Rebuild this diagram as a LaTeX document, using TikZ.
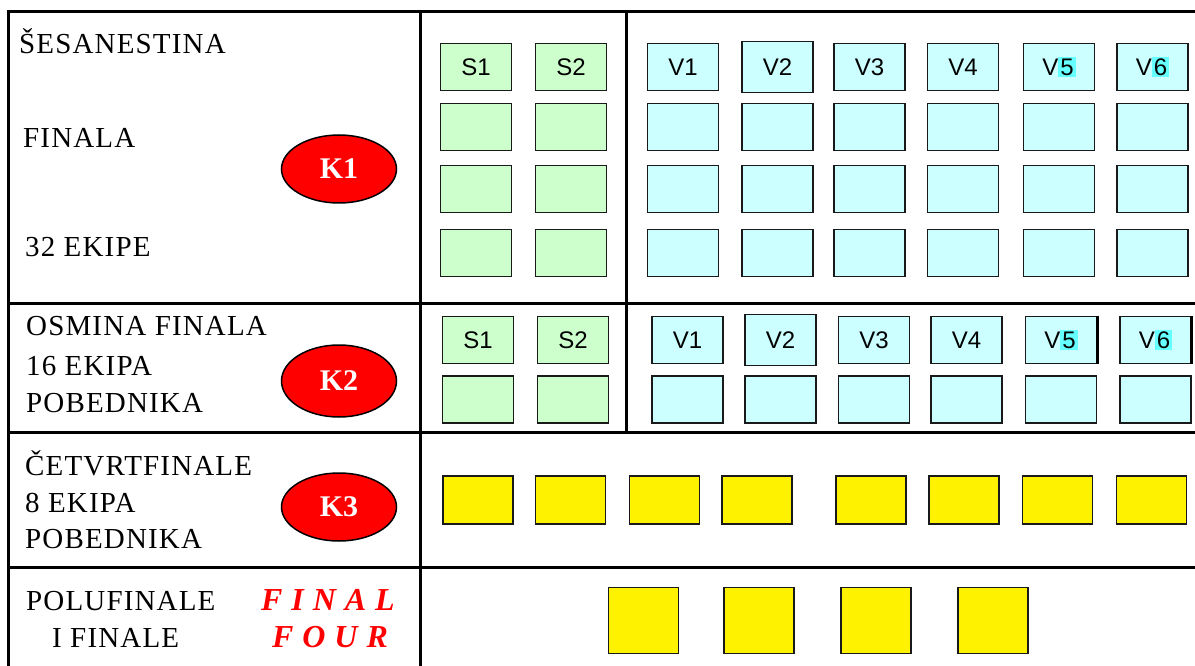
\documentclass[tikz,border=0pt]{standalone}
\usepackage{fontspec}
\setmainfont{Liberation Serif}
\newfontfamily\boxfont{Liberation Sans}
\usetikzlibrary{shapes.geometric}
\definecolor{sgreen}{HTML}{CCFFCC}
\definecolor{vblue}{HTML}{CCFFFF}
\definecolor{hilite}{HTML}{66FFFF}
\tikzset{
	divider/.style={line width=3pt},
	team/.style={draw=black!90,line width=1.8pt,minimum width=71pt,minimum height=47pt,inner sep=0pt,font=\boxfont\fontsize{24}{24}\selectfont},
	sbox/.style={team,fill=sgreen},
	vbox/.style={team,fill=vblue},
	ybox/.style={team,fill=yellow,minimum width=70pt,minimum height=48pt},
	fbox/.style={ybox,minimum height=66pt},
	kolo/.style={ellipse,draw=black,line width=1.5pt,fill=red,minimum width=115pt,minimum height=68pt,inner sep=0pt,text=white,font=\fontsize{30}{30}\selectfont\bfseries},
	stage/.style={anchor=base west,inner sep=0pt,font=\fontsize{29}{29}\selectfont\addfontfeatures{LetterSpace=4}},
	ffour/.style={anchor=base,inner sep=0pt,text=red,font=\fontsize{32}{32}\selectfont\bfseries\itshape\addfontfeatures{LetterSpace=28}}
}
\newcommand{\hl}[1]{{\setlength{\fboxsep}{2pt}\colorbox{hilite}{#1}}}
\begin{document}
\begin{tikzpicture}[x=1pt,y=-1pt]
	\useasboundingbox (0,0) rectangle (1195,666);
	% okvir tabele
	\draw [divider] (1195,12) -- (8,12) -- (8,666);
	\draw [divider] (8,303) -- (1195,303);
	\draw [divider] (8,432) -- (1195,432);
	\draw [divider] (8,567) -- (1195,567);
	\draw [divider] (420,12) -- (420,666);
	\draw [divider] (626,12) -- (626,432);
	% sesnaestina finala
	\node [stage] (sesna) at (19,54) {ŠESANESTINA};
	\node [stage] (fin) at (23,148) {FINALA};
	\node [stage] (e32) at (25,256) {32 EKIPE};
	\node [kolo] (k1) at (339,169) {K1};
	\foreach \x/\t [count=\i] in {476/S1,571/S2}
		\node [sbox] (as\i) at (\x,67) {\t};
	\foreach \x/\t/\h [count=\i] in {683/V1/47,777.5/V2/51,869.5/V3/47,963/V4/47,1059/V\hl{5}/47,1152.5/V\hl{6}/47}
		\node [vbox,minimum height=\h pt] (av\i) at (\x,67) {\t};
	\foreach \y [count=\j] in {127,189,253} {
		\foreach \x [count=\i] in {476,571}
			\node [sbox] (as\i-\j) at (\x,\y) {};
		\foreach \x [count=\i] in {683,777.5,869.5,963,1059,1152.5}
			\node [vbox] (av\i-\j) at (\x,\y) {};
	}
	% osmina finala
	\node [stage] (osm) at (26,335) {OSMINA FINALA};
	\node [stage] (e16) at (26,375) {16 EKIPA};
	\node [stage] (pob16) at (26,412) {POBEDNIKA};
	\node [kolo,minimum height=72pt] (k2) at (339,381) {K2};
	\foreach \x/\t [count=\i] in {478/S1,573/S2}
		\node [sbox] (bs\i) at (\x,340) {\t};
	\foreach \x/\t/\h [count=\i] in {687.5/V1/47,780.5/V2/51,874/V3/47,966.5/V4/47,1061/V\hl{5}/47,1155.5/V\hl{6}/47}
		\node [vbox,minimum height=\h pt] (bv\i) at (\x,340) {\t};
	\draw [line width=3pt] (bv5.north east) -- (bv5.south east);
	\draw [line width=3pt] (bv6.north east) -- (bv6.south east);
	\foreach \x [count=\i] in {478,573}
		\node [sbox] (bs\i-1) at (\x,399.5) {};
	\foreach \x [count=\i] in {687.5,780.5,874,966.5,1061,1155.5}
		\node [vbox] (bv\i-1) at (\x,399.5) {};
	% cetvrtfinale
	\node [stage] (cet) at (25,475) {ČETVRTFINALE};
	\node [stage] (e8) at (25,512) {8 EKIPA};
	\node [stage] (pob8) at (25,548) {POBEDNIKA};
	\node [kolo] (k3) at (339,507) {K3};
	\foreach \x [count=\i] in {478,570.5,664.5,757,871,964,1057.5,1151.5}
		\node [ybox] (c\i) at (\x,500) {};
	% final four
	\node [stage] (pol) at (26,610) {POLUFINALE};
	\node [stage] (ifin) at (52,647) {I FINALE};
	\node [ffour] (ff1) at (328,610) {FINAL};
	\node [ffour] (ff2) at (330,647) {FOUR};
	\foreach \x [count=\i] in {643.5,759,876,993}
		\node [fbox] (d\i) at (\x,620.5) {};
\end{tikzpicture}
\end{document}
